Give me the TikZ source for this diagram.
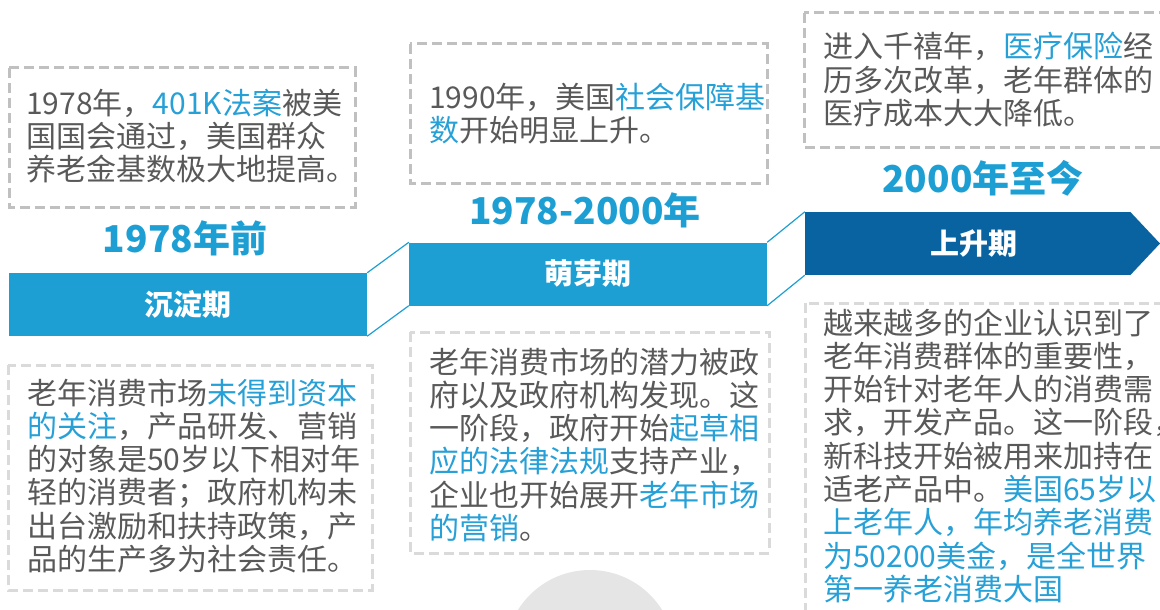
\documentclass[tikz,border=0pt]{standalone}
\usepackage{fontspec}
\setmainfont{Noto Sans CJK SC}
\usetikzlibrary{positioning}

\definecolor{barblue}{RGB}{30,159,211}
\definecolor{bardark}{RGB}{8,99,160}
\definecolor{txtgrey}{RGB}{89,89,89}
\definecolor{hlblue}{RGB}{38,160,215}
\definecolor{boxgrey}{RGB}{192,192,192}
\definecolor{boxlight}{RGB}{218,218,218}
\definecolor{circgrey}{RGB}{229,229,229}

\newcommand{\hl}[1]{\textcolor{hlblue}{#1}}

\tikzset{
    bar/.style={rectangle, fill=barblue, text=white, inner sep=0pt, minimum height=63pt,
        font=\fontsize{29}{29}\selectfont\bfseries},
    year/.style={text=barblue, inner sep=0pt, font=\fontsize{37}{37}\selectfont\bfseries},
    txt/.style={anchor=base west, inner sep=0pt, text width=345pt, align=left, text=txtgrey,
        font=\fontsize{30}{33.3}\selectfont},
    topbox/.style={boxgrey, line width=3pt, dash pattern=on 10pt off 5pt},
    lowbox/.style={boxlight, line width=3pt, dash pattern=on 10pt off 5pt},
    link/.style={barblue, line width=1.2pt}
}

\begin{document}
\begin{tikzpicture}[x=1pt, y=-1pt]
    \useasboundingbox (0,0) rectangle (1160,610);
    % grey disc at the bottom
    \fill[circgrey] (590,655) circle[radius=85];
    % dashed frames
    \draw[topbox] (9,68) rectangle (355,207);
    \draw[topbox] (410,44) rectangle (767,183);
    \draw[topbox] (804,13) rectangle (1175,147);
    \draw[lowbox] (8,365) rectangle (372,590);
    \draw[lowbox] (410,332) rectangle (769,553);
    \draw[lowbox] (805,303) rectangle (1175,630);
    % the three stages
    \node[bar, minimum width=358pt] (chendian) at (188,304.5) {沉淀期};
    \node[bar, minimum width=358pt] (mengya) at (588,274) {萌芽期};
    \node[bar, fill=bardark, minimum width=325pt] (shangsheng) at (967.5,243.5) {\hspace*{12pt}上升期};
    \coordinate (tip) at (1160,243.5);
    \fill[bardark] (shangsheng.north east) -- (tip) -- (shangsheng.south east) -- cycle;
    \draw[link] (chendian.north east) -- (mengya.north west);
    \draw[link] (chendian.south east) -- (mengya.south west);
    \draw[link] (mengya.north east) -- (shangsheng.north west);
    \draw[link] (mengya.south east) -- (shangsheng.south west);
    % years
    \node[year] (y1) at (185,238) {1978年前};
    \node[year] (y2) at (585,210) {1978-2000年};
    \node[year] (y3) at (983,178) {2000年至今};
    % texts above
    \node[txt] (t1) at (26,114) {1978年，\hl{401K法案}被美\\
        国国会通过，美国群众\\
        养老金基数极大地提高。};
    \node[txt] (t2) at (429,108) {1990年，美国\hl{社会保障基}\\
        \hl{数}开始明显上升。};
    \node[txt] (t3) at (823,58) {进入千禧年，\hl{医疗保险}经\\
        历多次改革，老年群体的\\
        医疗成本大大降低。};
    % texts below
    \node[txt] (b1) at (27,404) {老年消费市场\hl{未得到资本}\\
        \hl{的关注}，产品研发、营销\\
        的对象是50岁以下相对年\\
        轻的消费者；政府机构未\\
        出台激励和扶持政策，产\\
        品的生产多为社会责任。};
    \node[txt] (b2) at (429,373) {老年消费市场的潜力被政\\
        府以及政府机构发现。这\\
        一阶段，政府开始\hl{起草相}\\
        \hl{应的法律法规}支持产业，\\
        企业也开始展开\hl{老年市场}\\
        \hl{的营销}。};
    \node[txt] (b3) at (823,334) {越来越多的企业认识到了\\
        老年消费群体的重要性，\\
        开始针对老年人的消费需\\
        求，开发产品。这一阶段，\\
        新科技开始被用来加持在\\
        适老产品中。\hl{美国65岁以}\\
        \hl{上老年人，年均养老消费}\\
        \hl{为50200美金，是全世界}\\
        \hl{第一养老消费大国}};
\end{tikzpicture}
\end{document}
